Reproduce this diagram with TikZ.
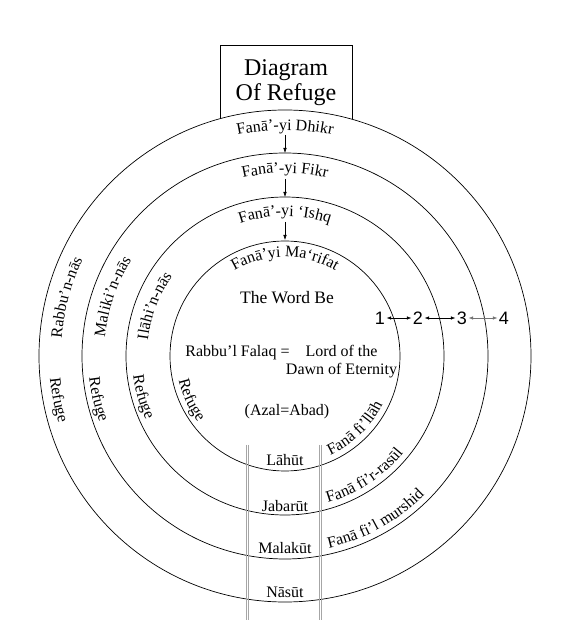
\documentclass[tikz,border=0pt]{standalone}
\usepackage{fontspec}
\setmainfont{Liberation Serif}
\newfontfamily\numfont{Liberation Sans}
\usetikzlibrary{decorations.text,arrows.meta,calc}
\newcommand\labfont{\fontsize{16}{18}\selectfont}
\begin{document}
\begin{tikzpicture}[x=1pt,y=1pt,
  ring/.style={line width=0.7pt},
  downarrow/.style={line width=0.5pt,-{Latex[length=5pt,width=3.5pt]}},
  twoarrow/.style={line width=0.5pt,{Latex[length=4.5pt,width=3.5pt]}-{Latex[length=4.5pt,width=3.5pt]}},
  numlab/.style={font=\numfont\fontsize{18}{20}\selectfont,inner sep=1.5pt},
  plainlab/.style={font=\labfont,inner sep=0pt},
  guide/.style={line width=0.5pt,gray!70}]
\useasboundingbox (0,0) rectangle (588,638);
\coordinate (C) at (285,282);
% title box
\node[font=\fontsize{24}{25}\selectfont,align=center,inner sep=0pt] (title) at (286,555) {Diagram\\Of Refuge};
\draw[line width=0.7pt] (220,505) -- (220,593) -- (352,593) -- (352,505);
% rings
\draw[ring,fill=white] (C) circle[radius=246];
\draw[ring] (C) circle[radius=203];
\draw[ring] (C) circle[radius=159];
\draw[ring] (C) circle[radius=115];
% top labels (clockwise arcs)
\path[decorate,decoration={text along path,text align=center,text={|\labfont|Fanā’-yi Dhikr}}]
  ($(C)+(125:226)$) arc[start angle=125,end angle=55,radius=226];
\path[decorate,decoration={text along path,text align=center,text={|\labfont|Fanā’-yi Fikr}}]
  ($(C)+(125:183)$) arc[start angle=125,end angle=55,radius=183];
\path[decorate,decoration={text along path,text align=center,text={|\labfont|Fanā’-yi ‘Ishq}}]
  ($(C)+(130:140)$) arc[start angle=130,end angle=50,radius=140];
\path[decorate,decoration={text along path,text align=center,text={|\labfont|Fanā’yi Ma‘rifat}}]
  ($(C)+(140:99)$) arc[start angle=140,end angle=40,radius=99];
% top arrows
\coordinate (a1s) at (285,503); \coordinate (a1e) at (285,485);
\coordinate (a2s) at (285,459); \coordinate (a2e) at (285,441);
\coordinate (a3s) at (285,416); \coordinate (a3e) at (285,398);
\draw[downarrow] (a1s) -- (a1e);
\draw[downarrow] (a2s) -- (a2e);
\draw[downarrow] (a3s) -- (a3e);
% left upper labels (clockwise)
\path[decorate,decoration={text along path,text align=center,text={|\labfont|Rabbu’n-nās}}]
  ($(C)+(195:224)$) arc[start angle=195,end angle=135,radius=224];
\path[decorate,decoration={text along path,text align=center,text={|\labfont|Maliki’n-nās}}]
  ($(C)+(191:181)$) arc[start angle=191,end angle=131,radius=181];
\path[decorate,decoration={text along path,text align=center,text={|\labfont|Ilāhi’n-nās}}]
  ($(C)+(189:138)$) arc[start angle=189,end angle=129,radius=138];
% Refuge labels (counterclockwise)
\path[decorate,decoration={text along path,text align=center,text={|\labfont|Refuge}}]
  ($(C)+(161:236)$) arc[start angle=161,end angle=221,radius=236];
\path[decorate,decoration={text along path,text align=center,text={|\labfont|Refuge}}]
  ($(C)+(163:197)$) arc[start angle=163,end angle=223,radius=197];
\path[decorate,decoration={text along path,text align=center,text={|\labfont|Refuge}}]
  ($(C)+(166:153)$) arc[start angle=166,end angle=226,radius=153];
\path[decorate,decoration={text along path,text align=center,text={|\labfont|Refuge}}]
  ($(C)+(175:109)$) arc[start angle=175,end angle=235,radius=109];
% bottom right labels (counterclockwise)
\path[decorate,decoration={text along path,text align=center,text={|\labfont|Fanā fi’llāh}}]
  ($(C)+(-86:109)$) arc[start angle=-86,end angle=-6,radius=109];
\path[decorate,decoration={text along path,text align=center,text={|\labfont|Fanā fi’r-rasūl}}]
  ($(C)+(-91:153)$) arc[start angle=-91,end angle=-22,radius=153];
\path[decorate,decoration={text along path,text align=center,text={|\labfont|Fanā fi’l murshid}}]
  ($(C)+(-96:197)$) arc[start angle=-96,end angle=-26,radius=197];
% centre texts
\node[font=\fontsize{17.5}{20}\selectfont,inner sep=0pt,anchor=base] (word) at (287,334) {The Word Be};
\node[plainlab,anchor=base] (rabbu) at (237.5,281) {Rabbu’l Falaq =};
\node[plainlab,align=center,font=\fontsize{16}{18}\selectfont] (lord) at (341.5,276) {Lord of the\\Dawn of Eternity};
\node[plainlab,anchor=base] (azal) at (287,222) {(Azal=Abad)};
% guide lines
\coordinate (g1t) at (246,193); \coordinate (g1b) at (246,18);
\coordinate (g2t) at (248.4,193); \coordinate (g2b) at (248.4,18);
\coordinate (g3t) at (319.3,193); \coordinate (g3b) at (319.3,18);
\coordinate (g4t) at (321.7,193); \coordinate (g4b) at (321.7,18);
\draw[guide] (g1t) -- (g1b);
\draw[guide] (g2t) -- (g2b);
\draw[guide] (g3t) -- (g3b);
\draw[guide] (g4t) -- (g4b);
% bottom labels
\node[plainlab,anchor=base] (lahut) at (285,172) {Lāhūt};
\node[plainlab,anchor=base] (jabarut) at (285,126) {Jabarūt};
\node[plainlab,anchor=base] (malakut) at (285,84) {Malakūt};
\node[plainlab,anchor=base] (nasut) at (285,40) {Nāsūt};
% numbers
\node[numlab] (n1) at (380,320) {1};
\node[numlab] (n2) at (418,320) {2};
\node[numlab] (n3) at (462,320) {3};
\node[numlab] (n4) at (504,320) {4};
\draw[twoarrow] (n1) -- (n2);
\draw[twoarrow] (n2) -- (n3);
\draw[twoarrow,black!55] (n3) -- (n4);
\end{tikzpicture}
\end{document}
